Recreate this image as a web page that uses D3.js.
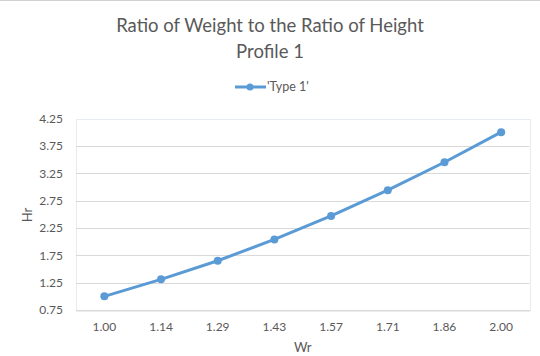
<!DOCTYPE html>
<html><head><meta charset="utf-8">
<script src="https://cdn.jsdelivr.net/npm/d3@7"></script>
<style>
html,body{margin:0;padding:0;background:#fff;}
svg{display:block;}
text{font-family:"Lato","Open Sans",sans-serif;fill:#595959;}
</style></head>
<body>
<script>
const titleLines = ["Ratio of Weight to the Ratio of Height", "Profile 1"];
const seriesName = "'Type 1'";
const categories = ["1.00","1.14","1.29","1.43","1.57","1.71","1.86","2.00"];
const hrValues = [1.00, 1.31, 1.65, 2.04, 2.47, 2.94, 3.45, 4.00];
const yTicks = [0.75, 1.25, 1.75, 2.25, 2.75, 3.25, 3.75, 4.25];
const xTitle = "Wr";
const yTitle = "Hr";

const W = 540, H = 356;
const m = {left:76, right:10.5, top:118.5, bottom:46};
const svg = d3.select("body").append("svg").attr("width", W).attr("height", H);

svg.append("line").attr("x1",0).attr("x2",W).attr("y1",0.5).attr("y2",0.5)
  .attr("stroke","#D0D0D0").attr("stroke-width",1);

const x = d3.scaleBand().domain(categories).range([m.left, W-m.right]);
const y = d3.scaleLinear().domain([0.75, 4.25]).range([H-m.bottom, m.top]);

// plot area border (faint)
svg.append("rect").attr("x", m.left+0.5).attr("y", Math.round(y(4.25))+0.5)
  .attr("width", Math.round(W-m.right-m.left)).attr("height", Math.round(y(0.75))-Math.round(y(4.25)))
  .attr("fill","none").attr("stroke","#E6ECF2");

// gridlines
svg.append("g").selectAll("line").data(yTicks.slice(0,-1)).join("line")
  .attr("x1", m.left).attr("x2", W-m.right)
  .attr("y1", d=>Math.round(y(d))+0.5).attr("y2", d=>Math.round(y(d))+0.5)
  .attr("stroke","#D9D9D9").attr("stroke-width",1);

// x axis
const xAxis = svg.append("g").attr("transform",`translate(0,${Math.round(y(0.75))+0.5})`)
  .call(d3.axisBottom(x).tickSize(0).tickPadding(12));
xAxis.select(".domain").attr("stroke","#D9D9D9");
xAxis.selectAll("text").style("font-size","12px").attr("fill","#595959").style("font-family","Lato");

// y axis
const yAxis = svg.append("g").attr("transform",`translate(${m.left},0)`)
  .call(d3.axisLeft(y).tickValues(yTicks).tickFormat(d3.format(".2f")).tickSize(0).tickPadding(13));
yAxis.select(".domain").remove();
yAxis.selectAll("text").style("font-size","12px").attr("fill","#595959").style("font-family","Lato");

// titles
const t = svg.append("text").attr("text-anchor","middle").style("font-size","18.5px");
titleLines.forEach((s,i)=>t.append("tspan").attr("x",270).attr("y",32+i*26).text(s));

svg.append("text").attr("x",(m.left+W-m.right)/2).attr("y",352).attr("text-anchor","middle")
  .style("font-size","13px").text(xTitle);
svg.append("text").attr("transform","translate(32,215) rotate(-90)").attr("text-anchor","middle")
  .style("font-size","13px").text(yTitle);

// legend
const lg = svg.append("g");
lg.append("line").attr("x1",235).attr("x2",266).attr("y1",87).attr("y2",87)
  .attr("stroke","#5B9BD5").attr("stroke-width",3);
lg.append("circle").attr("cx",250).attr("cy",87).attr("r",3.5).attr("fill","#5B9BD5");
lg.append("text").attr("x",267).attr("y",91).style("font-size","12.5px").text(seriesName);

// series
const pts = categories.map((c,i)=>({c, v:hrValues[i]}));
svg.append("path").datum(pts)
  .attr("d", d3.line().x(d=>x(d.c)+x.bandwidth()/2).y(d=>y(d.v)))
  .attr("fill","none").attr("stroke","#5B9BD5").attr("stroke-width",3).attr("stroke-linejoin","round");
svg.append("g").selectAll("circle").data(pts).join("circle")
  .attr("cx", d=>x(d.c)+x.bandwidth()/2).attr("cy", d=>y(d.v)).attr("r",4)
  .attr("fill","#5B9BD5");
</script>
</body></html>
